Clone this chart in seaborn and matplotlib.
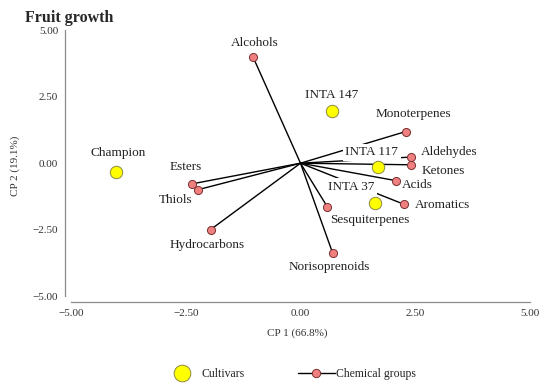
import pandas as pd
import matplotlib.pyplot as plt
import seaborn as sns
from matplotlib.lines import Line2D

# Data
cultivars = ['Champion', 'INTA 147', 'INTA 117', 'INTA 37']
cult_x = [-4.02, 0.69, 1.68, 1.63]
cult_y = [-0.34, 1.98, -0.15, -1.48]

groups = ['Alcohols', 'Monoterpenes', 'Aldehydes', 'Ketones', 'Acids', 'Aromatics',
          'Sesquiterpenes', 'Norisoprenoids', 'Esters', 'Thiols', 'Hydrocarbons']
grp_x = [-1.03, 2.29, 2.40, 2.40, 2.09, 2.26, 0.58, 0.70, -2.37, -2.24, -1.96]
grp_y = [3.98, 1.19, 0.23, -0.06, -0.66, -1.55, -1.63, -3.38, -0.78, -1.00, -2.50]

ticks = [-5.0, -2.5, 0.0, 2.5, 5.0]

cult_df = pd.DataFrame({'x': cult_x, 'y': cult_y, 'name': cultivars})
grp_df = pd.DataFrame({'x': grp_x, 'y': grp_y, 'name': groups})

# label offsets in pixels (label centre relative to point)
cult_off = {'Champion': (2, 19), 'INTA 147': (-1, 16), 'INTA 117': (-6, 15), 'INTA 37': (-24, 16)}
grp_off = {'Alcohols': (2, 14), 'Monoterpenes': (8, 18), 'Aldehydes': (39, 5), 'Ketones': (33, -6),
           'Acids': (21, -4), 'Aromatics': (38, -1), 'Sesquiterpenes': (43, -13),
           'Norisoprenoids': (-3, -14), 'Esters': (-6, 17), 'Thiols': (-22, -10),
           'Hydrocarbons': (-3, -15)}

sns.set_style('white')
plt.rcParams['font.family'] = ['Liberation Serif', 'DejaVu Serif']

fig = plt.figure(figsize=(5.5, 3.92), dpi=100)
ax = fig.add_axes([0.1182, 0.2304, 0.8455, 0.6923])

# vectors from origin
for gx, gy in zip(grp_x, grp_y):
    ax.plot([0, gx], [0, gy], color='black', lw=1.0, zorder=1)

sns.scatterplot(data=grp_df, x='x', y='y', ax=ax, s=34, color='#F08080',
                edgecolor='#7a3030', linewidth=0.7, zorder=4, legend=False)
sns.scatterplot(data=cult_df, x='x', y='y', ax=ax, s=80, color='#FFFF00',
                edgecolor='#8a8a40', linewidth=0.7, zorder=4, legend=False)

for n, x, y in zip(cultivars, cult_x, cult_y):
    dx, dy = cult_off[n]
    ax.annotate(n, (x, y), xytext=(dx, dy), textcoords='offset pixels', ha='center', va='center',
                fontsize=9.5, color='#222222', zorder=3,
                bbox=dict(boxstyle='square,pad=0.2', fc='white', ec='none'))
for n, x, y in zip(groups, grp_x, grp_y):
    dx, dy = grp_off[n]
    ax.annotate(n, (x, y), xytext=(dx, dy), textcoords='offset pixels', ha='center', va='center',
                fontsize=9.5, color='#222222', zorder=3)

ax.set_xlim(-5.13, 5.0)
ax.set_ylim(-5.21, 5.0)
ax.set_xticks(ticks)
ax.set_yticks(ticks)
ax.set_xticklabels([f'{t:.2f}'.replace('-', '\u2212') for t in ticks])
ax.set_yticklabels([f'{t:.2f}'.replace('-', '\u2212') for t in ticks])
for s in ['top', 'right']:
    ax.spines[s].set_visible(False)
for s in ['left', 'bottom']:
    ax.spines[s].set_color('#8c8c8c')
    ax.spines[s].set_linewidth(0.9)
ax.spines['left'].set_bounds(-5, 5)
ax.spines['bottom'].set_bounds(-5, 5)
ax.tick_params(axis='both', direction='out', length=3, width=0.8, color='#8c8c8c',
               labelsize=8, labelcolor='#333333', pad=2)
ax.set_xlabel('CP 1 (66.8%)', fontsize=8, color='#333333', labelpad=8)
ax.set_ylabel('CP 2 (19.1%)', fontsize=8, color='#333333', labelpad=9)

fig.text(0.045, 0.955, 'Fruit growth', fontsize=11.5, fontweight='bold', ha='left', va='center')

handles = [
    Line2D([], [], marker='o', ls='none', markersize=12, markerfacecolor='#FFFF00',
           markeredgecolor='#8a8a40', markeredgewidth=0.7),
    Line2D([], [], marker='o', color='black', lw=1.0, markersize=6, markerfacecolor='#F08080',
           markeredgecolor='#7a3030', markeredgewidth=0.7),
]
fig.legend(handles, ['Cultivars', 'Chemical groups'], loc='center', bbox_to_anchor=(0.527, 0.046),
           ncol=2, frameon=False, fontsize=8.5, handlelength=3.1, handletextpad=0.15,
           columnspacing=4.5)

fig.savefig('out.png', dpi=100)
